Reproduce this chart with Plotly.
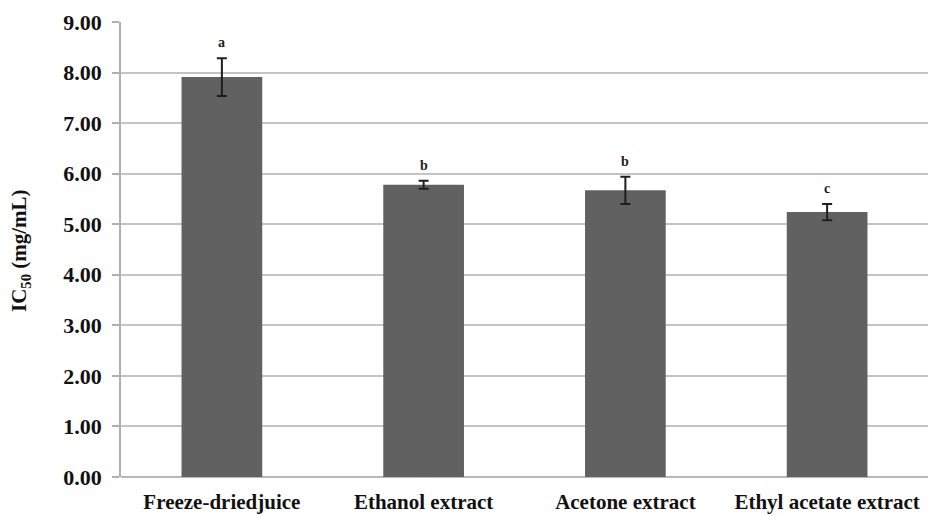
import plotly.graph_objects as go

# IC50 values (mg/mL) with standard deviations and significance letters
categories = ["Freeze-driedjuice", "Ethanol extract", "Acetone extract", "Ethyl acetate extract"]
ic50 = [7.91, 5.78, 5.67, 5.24]
sd = [0.375, 0.08, 0.27, 0.16]
letters = ["a", "b", "b", "c"]
y_ticks = [0, 1, 2, 3, 4, 5, 6, 7, 8, 9]

serif = "Liberation Serif, Times New Roman, serif"

fig = go.Figure()
fig.add_trace(go.Bar(
    x=categories,
    y=ic50,
    marker=dict(color="#616161", line=dict(width=0)),
    error_y=dict(type="data", array=sd, visible=True, color="#1e1e1e",
                 thickness=2, width=5),
    width=0.4,
    showlegend=False,
))

# significance letters above each error bar
for c, v, e, t in zip(categories, ic50, sd, letters):
    fig.add_annotation(x=c, y=v + e, text=f"<b>{t}</b>", showarrow=False,
                       yanchor="bottom", yshift=6,
                       font=dict(family=serif, size=14, color="#222"))

fig.add_annotation(xref="paper", yref="paper", x=-0.125, y=0.497,
                   text="<b>IC<sub>50</sub> (mg/mL)</b>", textangle=-90,
                   showarrow=False, xanchor="center", yanchor="middle",
                   font=dict(family=serif, size=21, color="#111"))

fig.update_layout(
    width=928, height=516,
    margin=dict(l=121, r=0, t=22, b=39),
    paper_bgcolor="white", plot_bgcolor="white",
    bargap=0.6,
    font=dict(family=serif, color="#111"),
)
fig.update_xaxes(
    showgrid=False, showline=False, ticks="",
    tickvals=categories, ticktext=[f"<b>{c}</b>" for c in categories],
    ticklabelstandoff=10,
    tickfont=dict(family=serif, size=21, color="#111"),
)
fig.update_yaxes(
    range=[0, 9], tickvals=y_ticks, ticktext=[f"<b>{v:.2f}</b>" for v in y_ticks],
    showgrid=True, gridcolor="#c4c4c4", gridwidth=1.5,
    showline=True, linecolor="#b0b0b0", linewidth=1.5,
    ticks="outside", ticklen=7, tickcolor="#b0b0b0", tickwidth=1.5,
    ticklabelstandoff=6,
    tickfont=dict(family=serif, size=22, color="#111"),
    zeroline=True, zerolinecolor="#b8b8b8", zerolinewidth=1.5,
)

fig.write_html("out.html")
